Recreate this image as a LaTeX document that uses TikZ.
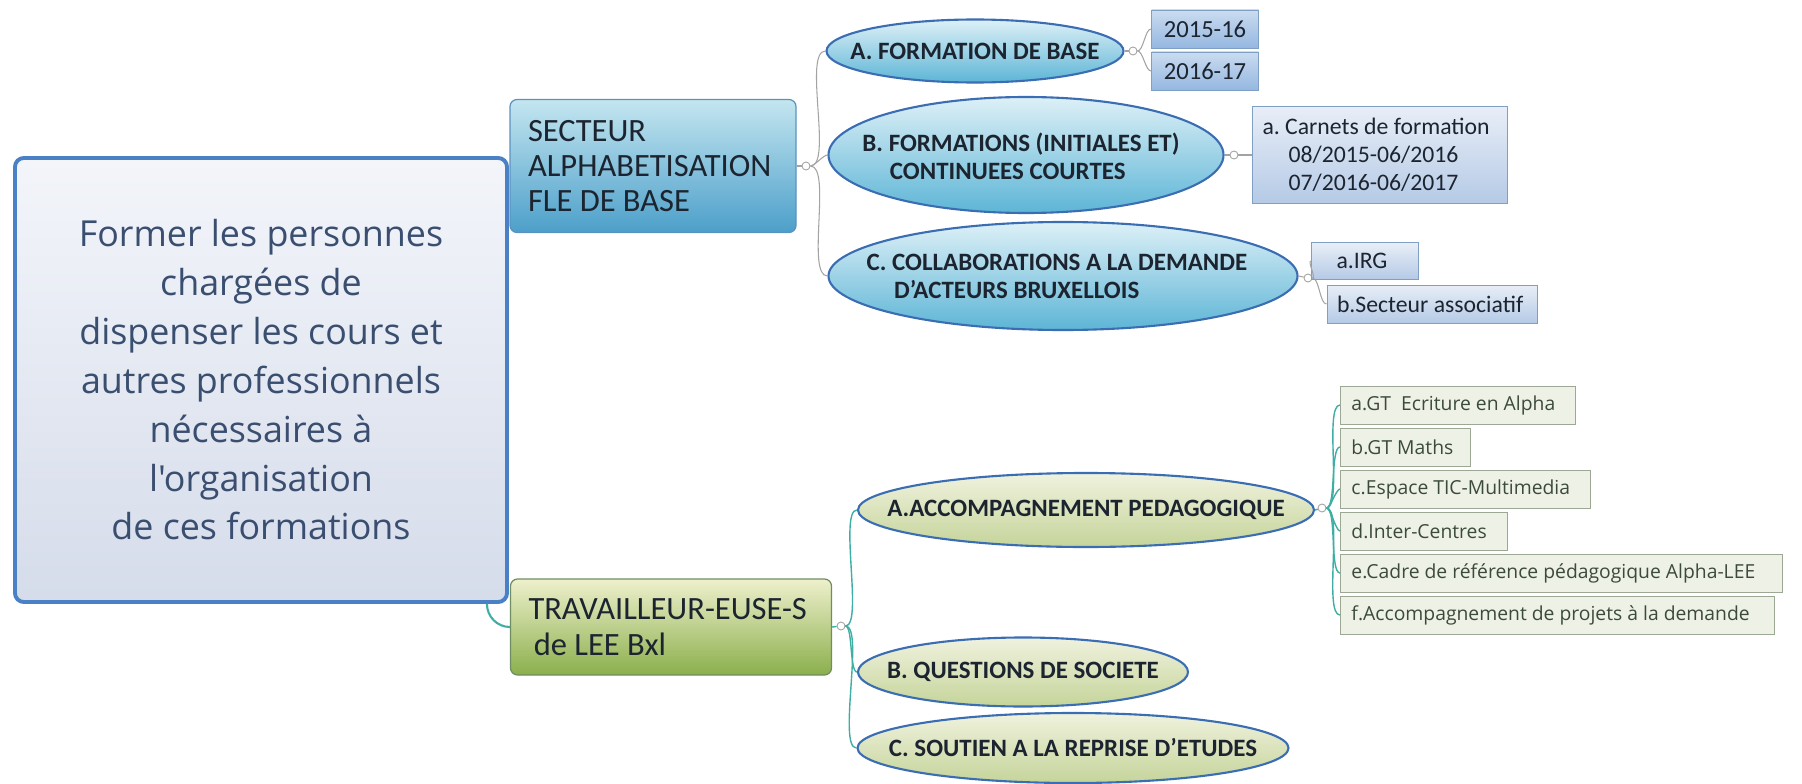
\documentclass[tikz,border=0pt]{standalone}
\usepackage{fontspec}
\setmainfont{Carlito}
\newfontfamily\opensans{Open Sans}
\usetikzlibrary{shapes.geometric}

\newlength\pxu
\setlength\pxu{0.02cm}

\definecolor{rootLine}{HTML}{4A80C6}
\definecolor{rootTop}{HTML}{F3F5FA}
\definecolor{rootBot}{HTML}{D5DCEA}
\definecolor{rootText}{HTML}{3A4E70}
\definecolor{secTop}{HTML}{C4E6F0}
\definecolor{secBot}{HTML}{4C9FCA}
\definecolor{secLine}{HTML}{5A93BF}
\definecolor{travTop}{HTML}{EEF0CC}
\definecolor{travBot}{HTML}{8BAF4C}
\definecolor{travLine}{HTML}{6E8E62}
\definecolor{ovalLine}{HTML}{3B6DB3}
\definecolor{ovalTop}{HTML}{DDF0F7}
\definecolor{ovalBot}{HTML}{5DB5D6}
\definecolor{greenTop}{HTML}{F0F2DE}
\definecolor{greenBot}{HTML}{C5D49A}
\definecolor{yearTop}{HTML}{CADCF0}
\definecolor{yearBot}{HTML}{95B7E0}
\definecolor{yearLine}{HTML}{7F9FC5}
\definecolor{noteTop}{HTML}{E8EEF7}
\definecolor{noteBot}{HTML}{B5CAE6}
\definecolor{itemFill}{HTML}{EEF2E6}
\definecolor{itemLine}{HTML}{9CA894}
\definecolor{itemText}{HTML}{3C4A3C}
\definecolor{grayLink}{HTML}{A3A3A3}
\definecolor{tealLink}{HTML}{3FAFA6}
\definecolor{darkText}{HTML}{1C2430}

\begin{document}
\frenchspacing
\begin{tikzpicture}[x=0.02cm, y=-0.02cm]
	\tikzstyle{rootStyle}=[draw=rootLine, line width=2.2pt, rounded corners=5pt, top color=rootTop, bottom color=rootBot, text=rootText, align=center, font=\opensans\fontsize{20.4pt}{27.8pt}\selectfont]
	\tikzstyle{branchStyle}=[line width=0.7pt, rounded corners=4pt, align=flush left, inner xsep=18\pxu, text=darkText, font=\fontsize{18.5pt}{20pt}\selectfont]
	\tikzstyle{secStyle}=[branchStyle, draw=secLine, top color=secTop, bottom color=secBot]
	\tikzstyle{travStyle}=[branchStyle, draw=travLine, top color=travTop, bottom color=travBot]
	\tikzstyle{ovalStyle}=[ellipse, draw=ovalLine, line width=1.2pt, inner sep=0pt, top color=ovalTop, bottom color=ovalBot]
	\tikzstyle{greenOvalStyle}=[ovalStyle, top color=greenTop, bottom color=greenBot]
	\tikzstyle{ovalText}=[inner sep=0pt, align=flush left, text=darkText, font=\bfseries\fontsize{14.2pt}{16pt}\selectfont]
	\tikzstyle{yearStyle}=[draw=yearLine, line width=0.5pt, top color=yearTop, bottom color=yearBot, text=darkText, inner sep=0pt, minimum width=107\pxu, minimum height=38\pxu, font=\fontsize{14pt}{16pt}\selectfont]
	\tikzstyle{noteStyle}=[yearStyle, top color=noteTop, bottom color=noteBot, align=flush left, inner xsep=10\pxu, font=\fontsize{13.5pt}{16pt}\selectfont]
	\tikzstyle{itemStyle}=[draw=itemLine, line width=0.5pt, fill=itemFill, text=itemText, anchor=west, align=flush left, inner xsep=11\pxu, inner ysep=0pt, minimum height=38\pxu, font=\opensans\fontsize{11pt}{13pt}\selectfont]
	\tikzstyle{knobStyle}=[circle, draw=grayLink, fill=white, line width=0.5pt, inner sep=0pt, minimum size=8\pxu]
	\tikzstyle{grayLinkStyle}=[draw=grayLink, line width=0.6pt]
	\tikzstyle{tealLinkStyle}=[draw=tealLink, line width=0.8pt]

	\useasboundingbox (0,0) rectangle (1802,784);

	% main topic
	\node[rootStyle, minimum width=492\pxu, minimum height=444\pxu] (root) at (261,380) {Former les personnes\\ chargées de\\ dispenser les cours et\\ autres professionnels\\ nécessaires à\\ l'organisation\\ de ces formations};

	% two sectors
	\node[secStyle, text width=250\pxu, minimum height=133\pxu] (sec) at (653,166) {SECTEUR\\ALPHABETISATION\\FLE DE BASE};
	\node[travStyle, text width=285\pxu, minimum height=96\pxu] (trav) at (671,627) {TRAVAILLEUR-EUSE-S\\\hspace{3pt}de LEE Bxl};
	\draw[tealLinkStyle, line width=1.2pt] ([xshift=-22\pxu]root.south east) to[out=-90, in=180] (trav.west);

	% alpha sector
	\node[knobStyle] (cSec) at (806,166) {};
	\node[ovalStyle, minimum width=297\pxu, minimum height=63\pxu] (ovA) at (975,51) {};
	\node[ovalText] (tA) at (ovA) {A. FORMATION DE BASE};
	\node[ovalStyle, minimum width=395\pxu, minimum height=116\pxu] (ovB) at (1026,155) {};
	\node[ovalText] (tB) at (1021,156) {B. FORMATIONS (INITIALES ET)\\\hspace{1.1em}CONTINUEES COURTES};
	\node[ovalStyle, minimum width=469\pxu, minimum height=108\pxu] (ovC) at (1063,276) {};
	\node[ovalText] (tC) at (1057,276) {C. COLLABORATIONS A LA DEMANDE\\\hspace{1.1em}D'ACTEURS BRUXELLOIS};
	\draw[grayLinkStyle] (sec.east) -- (cSec);
	\draw[grayLinkStyle] (cSec.east) to[out=0, in=180, looseness=0.5] (ovA.west);
	\draw[grayLinkStyle] (cSec.east) to[out=0, in=180, looseness=0.5] (ovB.west);
	\draw[grayLinkStyle] (cSec.east) to[out=0, in=180, looseness=0.5] (ovC.west);

	\node[knobStyle] (cA) at (1133,51) {};
	\node[yearStyle] (y15) at (1205,29) {2015-16};
	\node[yearStyle] (y16) at (1205,71) {2016-17};
	\draw[grayLinkStyle] (ovA.east) -- (cA);
	\draw[grayLinkStyle] (cA.east) to[out=0, in=180, looseness=0.6] (y15.west);
	\draw[grayLinkStyle] (cA.east) to[out=0, in=180, looseness=0.6] (y16.west);

	\node[knobStyle] (cB) at (1234,155) {};
	\node[noteStyle, minimum width=255\pxu, minimum height=97\pxu, text width=235\pxu] (carnets) at (1380,155) {a. Carnets de formation\\\hspace{1.1em}08/2015-06/2016\\\hspace{1.1em}07/2016-06/2017};
	\draw[grayLinkStyle] (ovB.east) -- (cB);
	\draw[grayLinkStyle] (cB.east) -- (carnets.west);

	\node[knobStyle] (cC) at (1308,278) {};
	\node[noteStyle, text width=57\pxu, minimum height=37\pxu] (irg) at (1365,261) {a.IRG};
	\node[noteStyle, text width=190\pxu] (asso) at (1432,304) {b.Secteur associatif};
	\draw[grayLinkStyle] (ovC.east) -- (cC);
	\draw[grayLinkStyle] (cC.east) to[out=0, in=180, looseness=0.6] (irg.west);
	\draw[grayLinkStyle] (cC.east) to[out=0, in=180, looseness=0.6] (asso.west);

	% workers sector
	\node[knobStyle] (cTrav) at (841,626) {};
	\node[greenOvalStyle, minimum width=456\pxu, minimum height=74\pxu] (gA) at (1086,510) {};
	\node[ovalText] (tgA) at (gA) {A.ACCOMPAGNEMENT PEDAGOGIQUE};
	\node[greenOvalStyle, minimum width=330\pxu, minimum height=69\pxu] (gB) at (1023,672) {};
	\node[ovalText] (tgB) at (gB) {B. QUESTIONS DE SOCIETE};
	\node[greenOvalStyle, minimum width=431\pxu, minimum height=70\pxu] (gC) at (1073,748) {};
	\node[ovalText] (tgC) at (gC) {C. SOUTIEN A LA REPRISE D'ETUDES};
	\draw[tealLinkStyle] (trav.east) -- (cTrav);
	\foreach \g in {gA, gB, gC}
		\draw[tealLinkStyle] (cTrav.east) to[out=0, in=180, looseness=0.4] (\g.west);

	\node[knobStyle] (cG) at (1322,508) {};
	\node[itemStyle, text width=213\pxu] (itA) at (1340,405) {a.GT\ \ Ecriture en Alpha};
	\node[itemStyle, text width=108\pxu] (itB) at (1340,447) {b.GT Maths};
	\node[itemStyle, text width=228\pxu] (itC) at (1340,489) {c.Espace TIC-Multimedia};
	\node[itemStyle, text width=145\pxu] (itD) at (1340,531) {d.Inter-Centres};
	\node[itemStyle, text width=420\pxu] (itE) at (1340,573) {e.Cadre de référence pédagogique Alpha-LEE};
	\node[itemStyle, text width=412\pxu] (itF) at (1340,615) {f.Accompagnement de projets à la demande};
	\draw[tealLinkStyle] (gA.east) -- (cG);
	\foreach \it in {itA, itB, itC, itD, itE, itF}
		\draw[tealLinkStyle] (cG.east) to[out=0, in=180, looseness=0.4] (\it.west);
\end{tikzpicture}
\end{document}
